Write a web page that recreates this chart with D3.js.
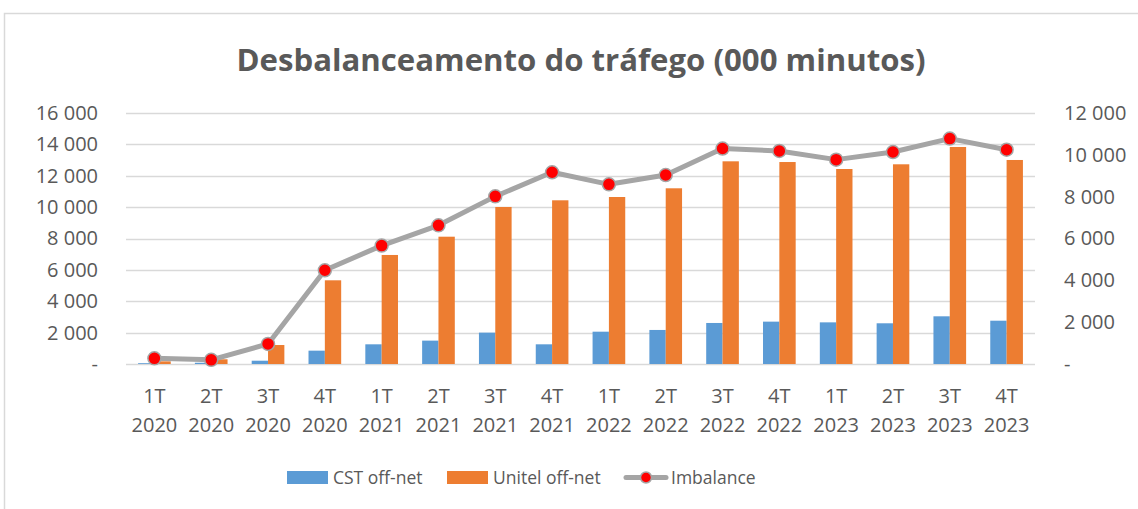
<!DOCTYPE html>
<html>
<head>
<meta charset="utf-8">
<script src="https://cdn.jsdelivr.net/npm/d3@7"></script>
<style>
  body { margin: 0; background: #fff; }
  svg text { font-family: "Open Sans", "Noto Sans", sans-serif; fill: #595959; }
</style>
</head>
<body>
<script>
// quarters and the two year-lines of each x label
var quarters = ["1T", "2T", "3T", "4T", "1T", "2T", "3T", "4T",
                "1T", "2T", "3T", "4T", "1T", "2T", "3T", "4T"];
var years = ["2020", "2020", "2020", "2020", "2021", "2021", "2021", "2021",
             "2022", "2022", "2022", "2022", "2023", "2023", "2023", "2023"];

// values (000 minutes)
var cstOffNet = [50, 80, 210, 850, 1255, 1490, 2000, 1255,
                 2060, 2170, 2615, 2700, 2655, 2595, 3040, 2760];
var unitelOffNet = [170, 300, 1210, 5335, 6950, 8115, 10010, 10435,
                    10645, 11200, 12920, 12875, 12430, 12730, 13835, 13005];
var imbalance = [270, 200, 960, 4480, 5660, 6630, 8015, 9165,
                 8590, 9035, 10300, 10185, 9770, 10135, 10775, 10245];

var leftTicks = [0, 2000, 4000, 6000, 8000, 10000, 12000, 14000, 16000];
var rightTicks = [0, 2000, 4000, 6000, 8000, 10000, 12000];

var width = 1138,
    height = 509;

var margin = { top: 113, right: 103, bottom: 145, left: 126 };

var svg = d3.select("body")
  .append("svg")
  .attr("width", width)
  .attr("height", height);

// outer chart frame (only top and left edges are visible)
svg.append("path")
  .attr("d", "M4.5," + height + "V13.5H" + width)
  .attr("fill", "none")
  .attr("stroke", "#d9d9d9")
  .attr("stroke-width", 1.5);

svg.append("text")
  .attr("x", 581)
  .attr("y", 71)
  .attr("text-anchor", "middle")
  .attr("font-size", 30)
  .attr("font-weight", "bold")
  .attr("textLength", 689)
  .attr("lengthAdjust", "spacingAndGlyphs")
  .text("Desbalanceamento do tráfego (000 minutos)");

var idx = d3.range(quarters.length);

var x0 = d3.scaleBand()
  .domain(idx)
  .range([margin.left, width - margin.right]);

var groupW = x0.bandwidth() * 0.575;
var x1 = d3.scaleBand()
  .domain(["cst", "unitel"])
  .range([(x0.bandwidth() - groupW) / 2, (x0.bandwidth() + groupW) / 2]);

var yLeft = d3.scaleLinear()
  .domain([0, 16000])
  .range([height - margin.bottom, margin.top]);

var yRight = d3.scaleLinear()
  .domain([0, 12000])
  .range([height - margin.bottom, margin.top]);

var fmt = function(v) {
  if (v === 0) return "-";
  return d3.format(",")(v).replace(/,/g, " ");
};

// gridlines
svg.append("g")
  .selectAll("line")
  .data(leftTicks)
  .enter().append("line")
  .attr("x1", margin.left)
  .attr("x2", width - margin.right)
  .attr("y1", function(d) { return Math.round(yLeft(d)) + 0.5; })
  .attr("y2", function(d) { return Math.round(yLeft(d)) + 0.5; })
  .attr("stroke", "#d9d9d9")
  .attr("stroke-width", 1.5);

// left axis labels
var axisL = svg.append("g")
  .attr("transform", "translate(" + 98 + ",0)")
  .call(d3.axisLeft(yLeft).tickValues(leftTicks).tickFormat(fmt).tickSize(0).tickPadding(0));
axisL.select(".domain").remove();
axisL.selectAll("text")
  .attr("font-size", 20)
  .attr("font-family", null)
  .attr("fill", null);

// right axis labels
var axisR = svg.append("g")
  .attr("transform", "translate(" + 1064 + ",0)")
  .call(d3.axisRight(yRight).tickValues(rightTicks).tickFormat(fmt).tickSize(0).tickPadding(0));
axisR.select(".domain").remove();
axisR.selectAll("text")
  .attr("font-size", 20)
  .attr("font-family", null)
  .attr("fill", null);

// bars
var bars = svg.append("g");
bars.selectAll(".cst")
  .data(cstOffNet)
  .enter().append("rect")
  .attr("x", function(d, i) { return x0(i) + x1("cst"); })
  .attr("y", function(d) { return yLeft(d); })
  .attr("width", x1.bandwidth())
  .attr("height", function(d) { return yLeft(0) - yLeft(d); })
  .attr("fill", "#5b9bd5");

bars.selectAll(".unitel")
  .data(unitelOffNet)
  .enter().append("rect")
  .attr("x", function(d, i) { return x0(i) + x1("unitel"); })
  .attr("y", function(d) { return yLeft(d); })
  .attr("width", x1.bandwidth())
  .attr("height", function(d) { return yLeft(0) - yLeft(d); })
  .attr("fill", "#ed7d31");

// imbalance line on the right axis
var cx = function(d, i) { return x0(i) + x0.bandwidth() / 2; };

var line = d3.line()
  .x(cx)
  .y(function(d) { return yRight(d); });

svg.append("path")
  .datum(imbalance)
  .attr("d", line)
  .attr("fill", "none")
  .attr("stroke", "#a5a5a5")
  .attr("stroke-width", 5)
  .attr("stroke-linejoin", "round")
  .attr("stroke-linecap", "round");

svg.append("g")
  .selectAll("circle")
  .data(imbalance)
  .enter().append("circle")
  .attr("cx", cx)
  .attr("cy", function(d) { return yRight(d); })
  .attr("r", 6.5)
  .attr("fill", "#ff0000")
  .attr("stroke", "#a5a5a5")
  .attr("stroke-width", 1.5);

// x labels (two lines)
var xl = svg.append("g")
  .selectAll("text")
  .data(idx)
  .enter().append("text")
  .attr("text-anchor", "middle")
  .attr("font-size", 20);
xl.append("tspan")
  .attr("x", function(d) { return x0(d) + x0.bandwidth() / 2; })
  .attr("y", 403)
  .text(function(d) { return quarters[d]; });
xl.append("tspan")
  .attr("x", function(d) { return x0(d) + x0.bandwidth() / 2; })
  .attr("y", 432)
  .text(function(d) { return years[d]; });

// legend
var legend = svg.append("g");
legend.append("rect")
  .attr("x", 287).attr("y", 471).attr("width", 41).attr("height", 13)
  .attr("fill", "#5b9bd5");
legend.append("text")
  .attr("x", 333).attr("y", 484).attr("font-size", 17.5)
  .text("CST off-net");
legend.append("rect")
  .attr("x", 447).attr("y", 471).attr("width", 41).attr("height", 13)
  .attr("fill", "#ed7d31");
legend.append("text")
  .attr("x", 493).attr("y", 484).attr("font-size", 17.5)
  .text("Unitel off-net");
legend.append("line")
  .attr("x1", 626).attr("x2", 666).attr("y1", 477.5).attr("y2", 477.5)
  .attr("stroke", "#a5a5a5").attr("stroke-width", 5)
  .attr("stroke-linecap", "round");
legend.append("circle")
  .attr("cx", 646).attr("cy", 477.5).attr("r", 5.5)
  .attr("fill", "#ff0000")
  .attr("stroke", "#a5a5a5").attr("stroke-width", 1.5);
legend.append("text")
  .attr("x", 671).attr("y", 484).attr("font-size", 17.5)
  .text("Imbalance");
</script>
</body>
</html>
